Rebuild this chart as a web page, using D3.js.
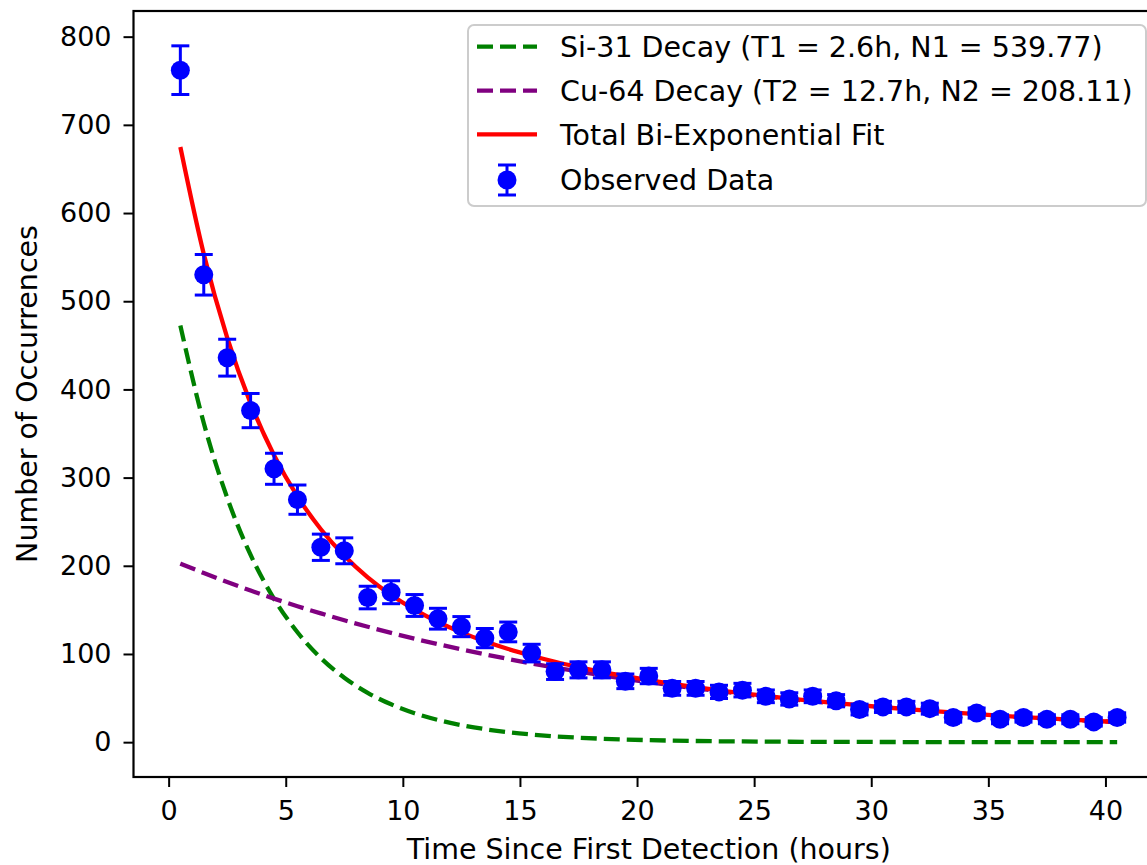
<!DOCTYPE html>
<html>
<head>
<meta charset="utf-8">
<script src="https://cdn.jsdelivr.net/npm/d3@7"></script>
<style>
  body { margin: 0; background: #fff; }
  svg { display: block; font-family: "DejaVu Sans", sans-serif; }
</style>
</head>
<body>
<script>
// observed counts per hour bin
var hours = [0.5, 1.5, 2.5, 3.5, 4.5, 5.5, 6.5, 7.5, 8.5, 9.5, 10.5, 11.5, 12.5, 13.5, 14.5,
    15.5, 16.5, 17.5, 18.5, 19.5, 20.5, 21.5, 22.5, 23.5, 24.5, 25.5, 26.5, 27.5, 28.5,
    29.5, 30.5, 31.5, 32.5, 33.5, 34.5, 35.5, 36.5, 37.5, 38.5, 39.5, 40.5];
var counts = [762, 530, 436, 376, 310, 275, 221, 217, 164, 170, 155, 140, 131, 118, 125,
    101, 80, 82, 82, 69, 75, 61, 61, 57, 59, 52, 49, 52, 47,
    37, 40, 40, 38, 28, 33, 26, 28, 26, 26, 23, 28];
var errors = [27.6, 23.0, 20.9, 19.4, 17.6, 16.6, 14.9, 14.7, 12.8, 13.0, 12.4, 11.8, 11.4, 10.9, 11.2,
    10.0, 8.9, 9.1, 9.1, 8.3, 8.7, 7.8, 7.8, 7.5, 7.7, 7.2, 7.0, 7.2, 6.9,
    6.1, 6.3, 6.3, 6.2, 5.3, 5.7, 5.1, 5.3, 5.1, 5.1, 4.8, 5.3];

// fitted curves sampled along the time axis
var fitHours = [0.5, 1.5, 2.5, 3.5, 4.5, 5.5, 6.5, 7.5, 8.5, 9.5, 10.5, 11.5, 12.5, 13.5, 14.5,
    15.5, 16.5, 17.5, 18.5, 19.5, 20.5, 22.5, 24.5, 26.5, 28.5, 30.5, 32.5, 34.5, 36.5, 38.5, 40.5];
var si31 = [472.4, 361.9, 277.2, 212.3, 162.6, 124.6, 95.4, 73.1, 56.0, 42.9, 32.8, 25.2, 19.3, 14.8, 11.3,
    8.7, 6.6, 5.1, 3.9, 3.0, 2.3, 1.3, 0.8, 0.5, 0.3, 0.2, 0.1, 0.06, 0.03, 0.02, 0.01];
var cu64 = [202.5, 191.8, 181.6, 171.9, 162.8, 154.1, 146.0, 138.2, 130.9, 123.9, 117.3, 111.1, 105.2, 99.6, 94.3,
    89.3, 84.6, 80.1, 75.8, 71.8, 68.0, 61.0, 54.7, 49.0, 43.9, 39.4, 35.3, 31.7, 28.4, 25.5, 22.8];
var total = [674.9, 553.6, 458.7, 384.2, 325.4, 278.7, 241.4, 211.3, 186.8, 166.8, 150.2, 136.3, 124.5, 114.4, 105.6,
    98.0, 91.2, 85.2, 79.7, 74.8, 70.3, 62.3, 55.4, 49.5, 44.2, 39.6, 35.4, 31.7, 28.4, 25.5, 22.8];

var xTicks = [0, 5, 10, 15, 20, 25, 30, 35, 40];
var yTicks = [0, 100, 200, 300, 400, 500, 600, 700, 800];

var legendLabels = [
    "Si-31 Decay (T1 = 2.6h, N1 = 539.77)",
    "Cu-64 Decay (T2 = 12.7h, N2 = 208.11)",
    "Total Bi-Exponential Fit",
    "Observed Data"
];

var width = 1147, height = 865;
var plotLeft = 133.5, plotTop = 11, plotBottom = 777, plotRight = 1164;

var svg = d3.select("body").append("svg")
    .attr("width", width)
    .attr("height", height);

svg.append("rect").attr("width", width).attr("height", height).attr("fill", "#fff");

var x = d3.scaleLinear().domain([-1.5, 42.5]).range([plotLeft, plotRight]);
var y = d3.scaleLinear().domain([-39.5, 829.1]).range([plotBottom, plotTop]);

var plot = svg.append("g");

// curves
function curvePath(vals){
    return d3.line()
        .x(function(d, i){ return x(fitHours[i]); })
        .y(function(d){ return y(d); })
        .curve(d3.curveMonotoneX)(vals);
}

plot.append("path").attr("d", curvePath(si31))
    .attr("fill", "none").attr("stroke", "#008000").attr("stroke-width", 4.3)
    .attr("stroke-dasharray", "16,7");
plot.append("path").attr("d", curvePath(cu64))
    .attr("fill", "none").attr("stroke", "#800080").attr("stroke-width", 4.3)
    .attr("stroke-dasharray", "16,7");
plot.append("path").attr("d", curvePath(total))
    .attr("fill", "none").attr("stroke", "#ff0000").attr("stroke-width", 4.3);

// error bars + points
var obs = hours.map(function(h, i){ return {h: h, c: counts[i], e: errors[i]}; });
var pts = plot.selectAll(".obs").data(obs).enter().append("g").attr("class", "obs");
pts.append("line")
    .attr("x1", function(d){ return x(d.h); }).attr("x2", function(d){ return x(d.h); })
    .attr("y1", function(d){ return y(d.c - d.e); }).attr("y2", function(d){ return y(d.c + d.e); })
    .attr("stroke", "#0000ff").attr("stroke-width", 3);
[-1, 1].forEach(function(s){
    pts.append("line")
        .attr("x1", function(d){ return x(d.h) - 9; }).attr("x2", function(d){ return x(d.h) + 9; })
        .attr("y1", function(d){ return y(d.c + s * d.e); }).attr("y2", function(d){ return y(d.c + s * d.e); })
        .attr("stroke", "#0000ff").attr("stroke-width", 3);
});
pts.append("circle")
    .attr("cx", function(d){ return x(d.h); })
    .attr("cy", function(d){ return y(d.c); })
    .attr("r", 9.5)
    .attr("fill", "#0000ff");

// axes
var xAxis = svg.append("g").attr("transform", "translate(0," + plotBottom + ")")
    .call(d3.axisBottom(x).tickValues(xTicks).tickSize(10).tickPadding(14));
var yAxis = svg.append("g").attr("transform", "translate(" + plotLeft + ",0)")
    .call(d3.axisLeft(y).tickValues(yTicks).tickSize(10).tickPadding(12));
[xAxis, yAxis].forEach(function(a){
    a.attr("font-size", null).attr("font-family", null);
    a.select(".domain").remove();
    a.selectAll(".tick line").attr("stroke", "#000").attr("stroke-width", 2);
    a.selectAll(".tick text").attr("fill", "#000").style("font-size", "27px");
});

// frame
svg.append("rect")
    .attr("x", plotLeft).attr("y", plotTop)
    .attr("width", plotRight - plotLeft).attr("height", plotBottom - plotTop)
    .attr("fill", "none").attr("stroke", "#000").attr("stroke-width", 2.2);

// axis labels
svg.append("text")
    .attr("x", (plotLeft + plotRight) / 2).attr("y", 859)
    .attr("text-anchor", "middle").style("font-size", "28.5px")
    .text("Time Since First Detection (hours)");
svg.append("text")
    .attr("transform", "translate(37," + (plotTop + plotBottom) / 2 + ") rotate(-90)")
    .attr("text-anchor", "middle").style("font-size", "28.5px")
    .text("Number of Occurrences");

// legend
var lg = svg.append("g");
lg.append("rect")
    .attr("x", 468).attr("y", 25).attr("width", 678).attr("height", 181)
    .attr("rx", 6).attr("ry", 6)
    .attr("fill", "#fff").attr("fill-opacity", 0.8)
    .attr("stroke", "#cccccc").attr("stroke-width", 2);

var rowY = [46.7, 90.7, 134.3, 180];
var styles = [
    {color: "#008000", dash: "16,7"},
    {color: "#800080", dash: "16,7"},
    {color: "#ff0000", dash: null},
    null
];
rowY.forEach(function(ry, i){
    if (styles[i]) {
        lg.append("line")
            .attr("x1", 477).attr("x2", 537).attr("y1", ry).attr("y2", ry)
            .attr("stroke", styles[i].color).attr("stroke-width", 4.3)
            .attr("stroke-dasharray", styles[i].dash);
    } else {
        lg.append("line").attr("x1", 507).attr("x2", 507).attr("y1", ry - 15).attr("y2", ry + 15)
            .attr("stroke", "#0000ff").attr("stroke-width", 3);
        lg.append("line").attr("x1", 498).attr("x2", 516).attr("y1", ry - 15).attr("y2", ry - 15)
            .attr("stroke", "#0000ff").attr("stroke-width", 3);
        lg.append("line").attr("x1", 498).attr("x2", 516).attr("y1", ry + 15).attr("y2", ry + 15)
            .attr("stroke", "#0000ff").attr("stroke-width", 3);
        lg.append("circle").attr("cx", 507).attr("cy", ry).attr("r", 9.5).attr("fill", "#0000ff");
    }
    lg.append("text")
        .attr("x", 560).attr("y", ry)
        .attr("dy", "0.36em")
        .style("font-size", "28.5px")
        .attr("fill", "#000")
        .text(legendLabels[i]);
});
</script>
</body>
</html>
